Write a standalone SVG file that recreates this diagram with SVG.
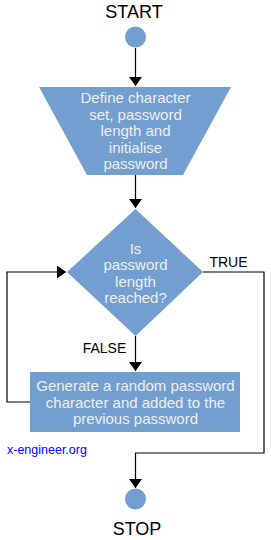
<svg xmlns="http://www.w3.org/2000/svg" width="271" height="540" viewBox="0 0 271 540">
<style>
.shape{fill:#729fcf;stroke:none}
.in{font-family:"Liberation Sans",Arial,sans-serif;font-size:15px;fill:#eeeeee;text-anchor:middle}
.lbl{font-family:"Liberation Sans",Arial,sans-serif;fill:#000;text-anchor:middle}
.ln{fill:none;stroke:#000;stroke-width:1.2}
</style>
<defs>
<marker id="ah" markerWidth="9" markerHeight="13" refX="9" refY="6.5" orient="auto" markerUnits="userSpaceOnUse" viewBox="0 0 9 13">
<path d="M0,0 L9,6.5 L0,13 Z" fill="#000"/>
</marker>
</defs>
<rect width="271" height="540" fill="#fff"/>
<g id="connectors">
<path class="ln" d="M135.5,48 V86" marker-end="url(#ah)"/>
<path class="ln" d="M135.5,175 V208" marker-end="url(#ah)"/>
<path class="ln" d="M135.5,336 V371" marker-end="url(#ah)"/>
<path class="ln" d="M30,402 H7 V272 H66" marker-end="url(#ah)"/>
<path class="ln" d="M203,272 H264 V453 H135.5 V488" marker-end="url(#ah)"/>
</g>
<g id="start">
<text class="lbl" x="134" y="18" font-size="18">START</text>
<circle class="shape" cx="135.5" cy="37" r="10.5"/>
</g>
<g id="define">
<polygon class="shape" points="39,87 231,87 183,175 87,175"/>
<text class="in" x="135.5" y="103">Define character</text>
<text class="in" x="135.5" y="119.5">set, password</text>
<text class="in" x="135.5" y="136">length and</text>
<text class="in" x="135.5" y="152.5">initialise</text>
<text class="in" x="135.5" y="169">password</text>
</g>
<g id="decision">
<polygon class="shape" points="135.5,209 203,272 135.5,336 67,272"/>
<text class="in" x="135.5" y="253.5">Is</text>
<text class="in" x="135.5" y="270">password</text>
<text class="in" x="135.5" y="286.5">length</text>
<text class="in" x="135.5" y="303">reached?</text>
</g>
<g id="true-label">
<text class="lbl" x="228.5" y="267" font-size="14">TRUE</text>
</g>
<g id="false-label">
<text class="lbl" x="104.5" y="353" font-size="14">FALSE</text>
</g>
<g id="generate">
<rect class="shape" x="30" y="372" width="210" height="60"/>
<text class="in" x="135.5" y="391">Generate a random password</text>
<text class="in" x="135.5" y="407.5">character and added to the</text>
<text class="in" x="135.5" y="424">previous password</text>
</g>
<g id="credit">
<text x="7" y="454" font-family="'Liberation Sans',Arial,sans-serif" font-size="12.5" fill="#0000ff">x-engineer.org</text>
</g>
<g id="stop">
<circle class="shape" cx="135.5" cy="499" r="10.5"/>
<text class="lbl" x="137" y="535" font-size="18">STOP</text>
</g>
</svg>
